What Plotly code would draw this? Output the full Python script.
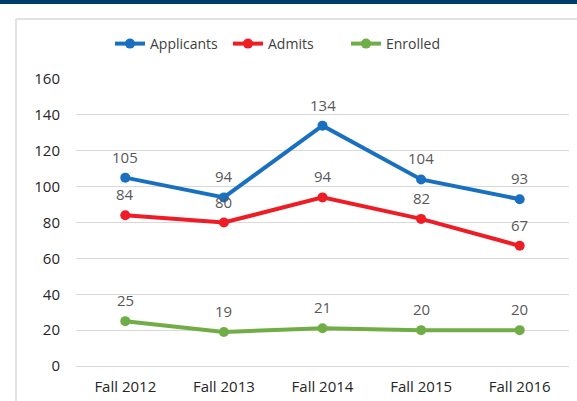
import plotly.graph_objects as go

categories = ["Fall 2012", "Fall 2013", "Fall 2014", "Fall 2015", "Fall 2016"]
applicants = [105, 94, 134, 104, 93]
admits = [84, 80, 94, 82, 67]
enrolled = [25, 19, 21, 20, 20]
y_ticks = [0, 20, 40, 60, 80, 100, 120, 140, 160]

series = [
    ("Applicants", applicants, "#1a70c0"),
    ("Admits", admits, "#ee1c24"),
    ("Enrolled", enrolled, "#70ad47"),
]

FONT = "Open Sans, Liberation Sans, sans-serif"

fig = go.Figure()
annotations = []
for name, vals, color in series:
    fig.add_trace(go.Scatter(
        x=categories, y=vals, name=name, mode="lines+markers",
        line=dict(color=color, width=4),
        marker=dict(color=color, size=10),
    ))
    for c, v in zip(categories, vals):
        annotations.append(dict(
            x=c, y=v, text=str(v), showarrow=False, yshift=21,
            font=dict(family=FONT, size=15, color="#595959"),
        ))

L, R, T, B = 76, 8, 79, 35
W, H = 577, 401
pw = W - L - R
ph = H - T - B

def px_x(p):
    return (p - L) / pw

def px_y(p):
    return (H - B - p) / ph

shapes = [
    # top dark band
    dict(type="rect", xref="paper", yref="paper", x0=px_x(0), x1=px_x(W),
         y0=px_y(4), y1=px_y(-2), fillcolor="#003d6b", line=dict(width=0), layer="below"),
    # chart frame left and top
    dict(type="line", xref="paper", yref="paper", x0=px_x(16), x1=px_x(16),
         y0=px_y(19), y1=px_y(H + 2), line=dict(color="#d9d9d9", width=1.5)),
    dict(type="line", xref="paper", yref="paper", x0=px_x(16), x1=px_x(W + 2),
         y0=px_y(19), y1=px_y(19), line=dict(color="#d9d9d9", width=1.5)),
]

fig.update_layout(
    width=W, height=H,
    margin=dict(l=L, r=R, t=T, b=B, autoexpand=False),
    paper_bgcolor="white", plot_bgcolor="white",
    font=dict(family=FONT, size=15, color="#404040"),
    showlegend=True,
    legend=dict(orientation="h", x=px_x(110), xanchor="left", y=px_y(44), yanchor="middle",
                font=dict(family=FONT, size=14, color="#404040"),
                itemwidth=30, tracegroupgap=0,
                entrywidth=73, entrywidthmode="pixels"),
    xaxis=dict(type="category", range=[-0.5, 4.5], showgrid=False, automargin=False,
               showline=True, linecolor="#d9d9d9", linewidth=1,
               ticks="", ticklabelstandoff=7,
               tickfont=dict(family=FONT, size=15, color="#262626"),
               fixedrange=True),
    yaxis=dict(range=[0, 160], tickvals=y_ticks, showgrid=True, gridcolor="#d9d9d9",
               gridwidth=1, zeroline=False, showline=False, ticks="", automargin=False,
               ticklabelstandoff=15,
               tickfont=dict(family=FONT, size=15, color="#262626"), fixedrange=True),
    annotations=annotations,
    shapes=shapes,
)

fig.write_html("out.html", config={"displayModeBar": False},
               post_script="document.body.style.margin='0';")
